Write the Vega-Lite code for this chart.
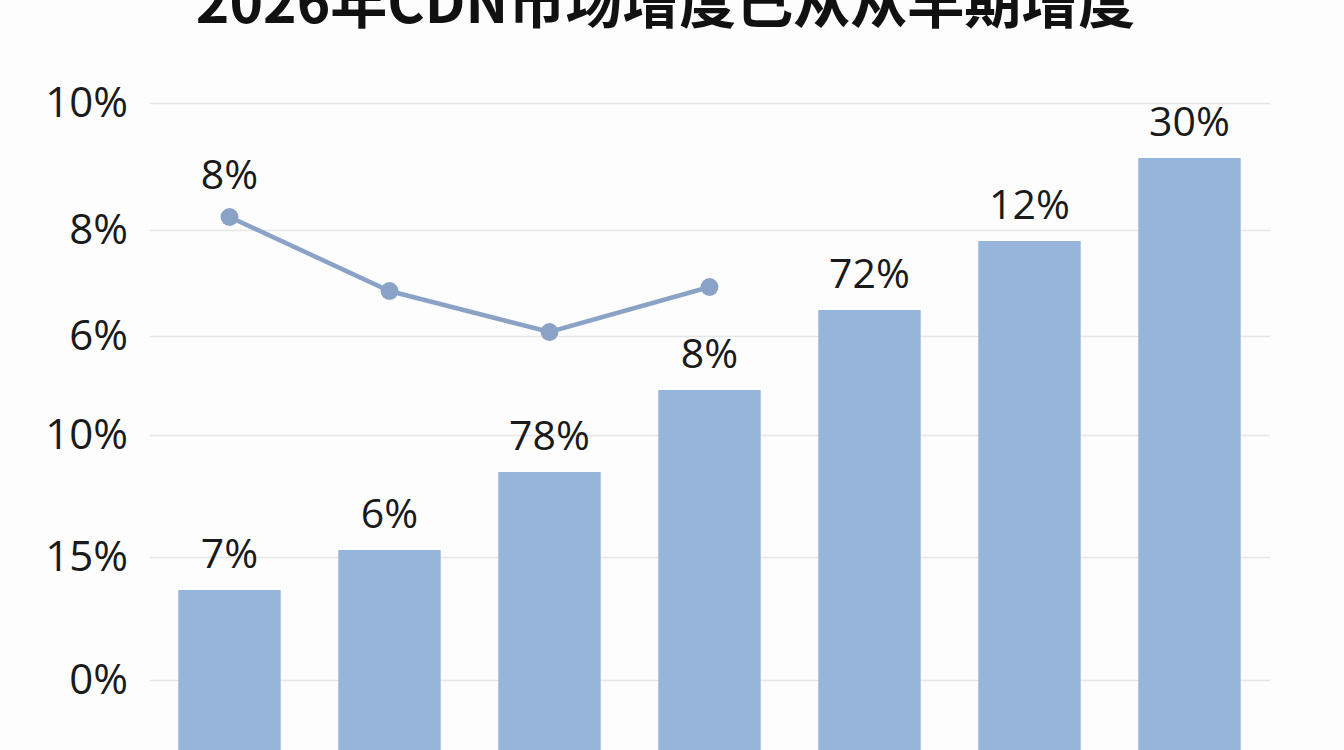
{
  "$schema": "https://vega.github.io/schema/vega-lite/v6.json",
  "width": 1120,
  "height": 710,
  "autosize": "none",
  "padding": {"left": 149.5, "top": 40, "right": 74.5, "bottom": 0},
  "background": "#fdfdfd",
  "view": {"stroke": null},
  "title": {
    "text": "2026年CDN市场增度已从从早期增度",
    "font": "Noto Sans CJK SC",
    "fontSize": 57,
    "fontWeight": "bold",
    "color": "#111111",
    "anchor": "middle",
    "frame": "group",
    "baseline": "alphabetic",
    "dx": -44,
    "dy": 40,
    "offset": 0
  },
  "datasets": {
    "bars": [
      {"cat": "c1", "value": 160, "label": "7%"},
      {"cat": "c2", "value": 200, "label": "6%"},
      {"cat": "c3", "value": 278, "label": "78%"},
      {"cat": "c4", "value": 360, "label": "8%"},
      {"cat": "c5", "value": 440, "label": "72%"},
      {"cat": "c6", "value": 509, "label": "12%"},
      {"cat": "c7", "value": 592, "label": "30%"}
    ],
    "trend": [
      {"cat": "c1", "value": 533, "label": "8%"},
      {"cat": "c2", "value": 459, "label": ""},
      {"cat": "c3", "value": 418, "label": ""},
      {"cat": "c4", "value": 463, "label": ""}
    ]
  },
  "encoding": {
    "x": {
      "field": "cat",
      "type": "nominal",
      "scale": {"domain": ["c1", "c2", "c3", "c4", "c5", "c6", "c7"], "paddingInner": 0.36, "paddingOuter": 0.18},
      "axis": null
    },
    "y": {
      "field": "value",
      "type": "quantitative",
      "scale": {"domain": [0, 710], "nice": false, "zero": true},
      "axis": {
        "values": [70, 193, 315, 414, 520, 647],
        "labelExpr": "datum.value == 647 ? '10%' : datum.value == 520 ? '8%' : datum.value == 414 ? '6%' : datum.value == 315 ? '10%' : datum.value == 193 ? '15%' : '0%'",
        "title": null,
        "domain": false,
        "ticks": false,
        "labelPadding": 22,
        "labelFont": "Open Sans",
        "labelFontSize": 42,
        "labelColor": "#1a1a1a",
        "gridColor": "#e6e6e6",
        "gridWidth": 1.5
      }
    }
  },
  "layer": [
    {
      "data": {"name": "bars"},
      "mark": {"type": "bar", "color": "#97b4da"}
    },
    {
      "data": {"name": "bars"},
      "mark": {"type": "text", "dy": -34, "baseline": "middle", "font": "Open Sans", "fontSize": 41, "color": "#1a1a1a"},
      "encoding": {"text": {"field": "label"}}
    },
    {
      "data": {"name": "trend"},
      "mark": {"type": "line", "color": "#8ba2c7", "strokeWidth": 4.5}
    },
    {
      "data": {"name": "trend"},
      "mark": {"type": "point", "filled": true, "opacity": 1, "color": "#8ba2c7", "size": 320}
    },
    {
      "data": {"name": "trend"},
      "mark": {"type": "text", "dy": -40, "baseline": "middle", "font": "Open Sans", "fontSize": 41, "color": "#1a1a1a"},
      "encoding": {"text": {"field": "label"}}
    }
  ]
}
